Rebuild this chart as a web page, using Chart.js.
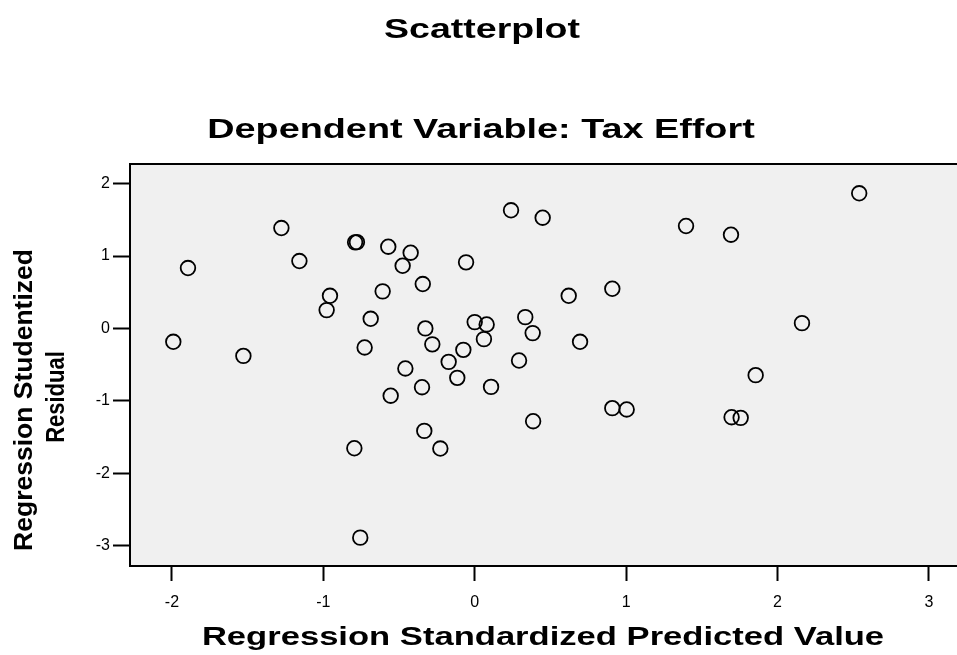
<!DOCTYPE html>
<html>
<head>
<meta charset="utf-8">
<script src="https://cdn.jsdelivr.net/npm/chart.js@4.4.0/dist/chart.umd.min.js"></script>
<style>
  html, body { margin: 0; padding: 0; background: #ffffff; overflow: hidden; }
  #wrap { position: relative; width: 957px; height: 655px; }
</style>
</head>
<body>
<div id="wrap"><canvas id="chart"></canvas></div>
<script>
// Labels
const chartTitle = 'Scatterplot';
const chartSubtitle = 'Dependent Variable: Tax Effort';
const xAxisTitle = 'Regression Standardized Predicted Value';
const yAxisTitleLines = ['Regression Studentized', 'Residual'];

// Tick values
const xTickValues = [-2, -1, 0, 1, 2, 3];
const yTickValues = [2, 1, 0, -1, -2, -3];

// Regression standardized predicted value (x) for each case
const predicted = [
  -1.991, -1.894, -1.528, -1.277, -1.158, -0.978, -0.956, -0.790, -0.778, -0.795,
  -0.756, -0.727, -0.687, -0.608, -0.571, -0.555, -0.476, -0.458, -0.423, -0.343,
  -0.348, -0.333, -0.326, -0.280, -0.227, -0.172, -0.115, -0.075, -0.057, 0.000,
  0.061, 0.079, 0.108, 0.240, 0.293, 0.334, 0.383, 0.386, 0.449, 0.621,
  0.696, 0.909, 0.909, 1.004, 1.396, 1.693, 1.697, 1.757, 1.856, 2.162,
  2.540
];

// Regression studentized residual (y) for each case
const studentized = [
  -0.185, 0.834, -0.380, 1.387, 0.931, 0.253, 0.451, 1.189, 1.192, -1.656,
  -2.891, -0.263, 0.133, 0.512, 1.129, -0.930, 0.866, -0.553, 1.046, 0.613,
  -0.812, -1.416, 0.000, -0.220, -1.660, -0.462, -0.683, -0.296, 0.913, 0.087,
  -0.148, 0.055, -0.808, 1.632, -0.443, 0.156, -0.065, -1.282, 1.530, 0.451,
  -0.185, 0.548, -1.102, -1.120, 1.415, 1.295, -1.227, -1.236, -0.646, 0.073,
  1.867
];

const FONT = "'Liberation Sans', Arial, Helvetica, sans-serif";

const points = predicted.map((x, i) => ({ x: x, y: studentized[i] }));

// Grey plot panel plus its top edge
const panelPlugin = {
  id: 'panel',
  beforeDraw(chart) {
    const { ctx, chartArea: a } = chart;
    ctx.save();
    ctx.fillStyle = '#f0f0f0';
    ctx.fillRect(a.left, a.top, a.right - a.left, a.bottom - a.top);
    ctx.strokeStyle = '#000000';
    ctx.lineWidth = 2;
    ctx.beginPath();
    ctx.moveTo(a.left - 1, a.top);
    ctx.lineTo(a.right, a.top);
    ctx.stroke();
    ctx.restore();
  }
};

// Wide bold headings and axis titles
function wideText(ctx, text, x, y, size, sx, rotate) {
  ctx.save();
  ctx.font = 'bold ' + size + 'px ' + FONT;
  ctx.fillStyle = '#000000';
  ctx.textAlign = 'center';
  ctx.textBaseline = 'alphabetic';
  ctx.translate(x, y);
  if (rotate) ctx.rotate(-Math.PI / 2);
  ctx.scale(sx, 1);
  ctx.fillText(text, 0, 0);
  ctx.restore();
}

const titlesPlugin = {
  id: 'titles',
  afterDraw(chart) {
    const ctx = chart.ctx;
    wideText(ctx, chartTitle, 482, 38, 28, 1.34, false);
    wideText(ctx, chartSubtitle, 481, 138, 28, 1.35, false);
    wideText(ctx, xAxisTitle, 543, 645, 26, 1.33, false);
    wideText(ctx, yAxisTitleLines[0], 32, 400, 25, 1.06, true);
    wideText(ctx, yAxisTitleLines[1], 64, 397, 25, 0.88, true);
  }
};

new Chart(document.getElementById('chart'), {
  type: 'scatter',
  data: {
    datasets: [{
      data: points,
      pointStyle: 'circle',
      pointRadius: 7.3,
      pointBorderWidth: 1.8,
      pointBorderColor: '#000000',
      pointBackgroundColor: 'rgba(0,0,0,0)'
    }]
  },
  options: {
    responsive: true,
    maintainAspectRatio: false,
    animation: false,
    events: [],
    layout: { autoPadding: false, padding: { top: 164, right: 0, bottom: 0, left: 0 } },
    plugins: {
      legend: { display: false },
      title: { display: false },
      tooltip: { enabled: false }
    },
    scales: {
      x: {
        type: 'linear',
        min: -2.277,
        max: 3.186,
        afterBuildTicks: (scale) => { scale.ticks = xTickValues.map(v => ({ value: v })); },
        afterFit: (scale) => {
          scale.height = 89;
          scale.paddingLeft = 0;
          scale.paddingRight = 0;
        },
        grid: {
          drawOnChartArea: false,
          drawTicks: true,
          tickLength: 15,
          tickWidth: 2,
          tickColor: '#000000',
          color: '#000000'
        },
        border: { display: true, color: '#000000', width: 2 },
        ticks: {
          color: '#000000',
          padding: 12,
          font: { family: FONT, size: 16 },
          maxRotation: 0,
          callback: (v) => String(v)
        }
      },
      y: {
        type: 'linear',
        min: -3.283,
        max: 2.272,
        afterBuildTicks: (scale) => { scale.ticks = yTickValues.map(v => ({ value: v })); },
        afterFit: (scale) => {
          scale.width = 130;
          scale.paddingTop = 0;
          scale.paddingBottom = 0;
        },
        grid: {
          drawOnChartArea: false,
          drawTicks: true,
          tickLength: 17,
          tickWidth: 2,
          tickColor: '#000000',
          color: '#000000'
        },
        border: { display: true, color: '#000000', width: 2 },
        ticks: {
          color: '#000000',
          padding: 3,
          font: { family: FONT, size: 16 },
          callback: (v) => String(v)
        }
      }
    }
  },
  plugins: [panelPlugin, titlesPlugin]
});
</script>
</body>
</html>
